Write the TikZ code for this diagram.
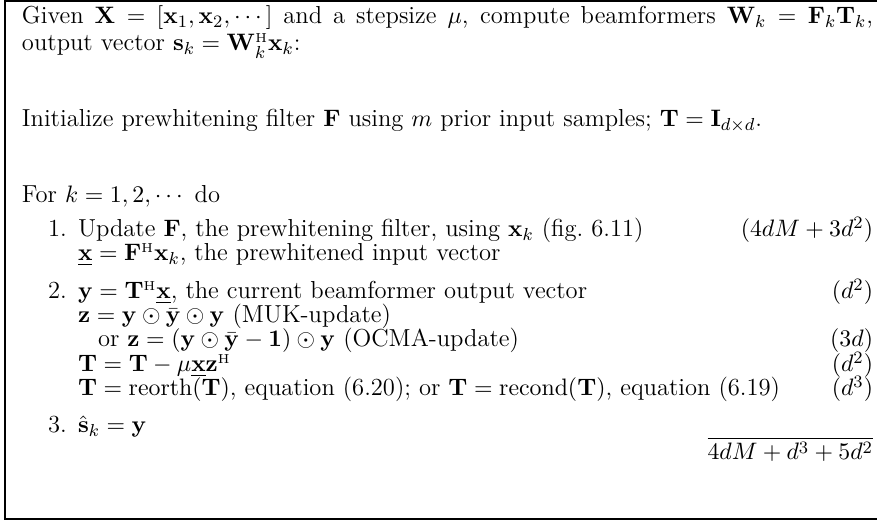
\documentclass[tikz,border=0pt]{standalone}
\usepackage{amsmath}
\newcommand{\hermit}{{\scriptscriptstyle\mathrm{H}}}
\newcommand{\bvec}[1]{\mathbf{#1}}
\begin{document}
\begin{tikzpicture}[x=0.46pt,y=-0.46pt,
  font=\fontsize{11.3}{13}\selectfont,
  txt/.style={anchor=base west, inner sep=0pt, outer sep=0pt},
  cost/.style={anchor=base east, inner sep=0pt, outer sep=0pt},
  frame/.style={line width=0.9pt}]
\useasboundingbox (0,0) rectangle (877,523);
% outer frame of the algorithm box
\draw[frame] (877,1) -- (5,1) -- (5,519) -- (877,519);

% header
\node[txt] (given) at (22,24) {\makebox[391.5pt][s]{Given $\bvec{X}=[\bvec{x}_1,\bvec{x}_2,\cdots]$ and a stepsize $\mu$, compute beamformers $\bvec{W}_k=\bvec{F}_k\bvec{T}_k$,}};
\node[txt] (outvec) at (22,51) {output vector $\bvec{s}_k=\bvec{W}_k^{\hermit}\bvec{x}_k$:};
\node[txt] (init) at (22,127) {Initialize prewhitening filter $\bvec{F}$ using $m$ prior input samples; $\bvec{T}=\bvec{I}_{d\times d}$.};
\node[txt] (loop) at (22,203) {For $k=1,2,\cdots$ do};

% step 1
\node[txt] (n1) at (48,237) {1.};
\node[txt] (s1a) at (78,237) {Update $\bvec{F}$, the prewhitening filter, using $\bvec{x}_k$ (fig.~6.11)};
\node[cost] (c1) at (873,237) {$(4dM+3d^2)$};
\node[txt] (s1b) at (78,261) {$\underline{\bvec{x}}=\bvec{F}^{\hermit}\bvec{x}_k$, the prewhitened input vector};

% step 2
\node[txt] (n2) at (48,299) {2.};
\node[txt] (s2a) at (78,299) {$\bvec{y}=\bvec{T}^{\hermit}\underline{\bvec{x}}$, the current beamformer output vector};
\node[cost] (c2a) at (873,299) {$(d^2)$};
\node[txt] (s2b) at (78,323) {$\bvec{z}=\bvec{y}\odot\bar{\bvec{y}}\odot\bvec{y}$ (MUK-update)};
\node[txt] (s2c) at (98,347) {or $\bvec{z}=(\bvec{y}\odot\bar{\bvec{y}}-\bvec{1})\odot\bvec{y}$ (OCMA-update)};
\node[cost] (c2c) at (873,347) {$(3d)$};
\node[txt] (s2d) at (78,372) {$\bvec{T}=\bvec{T}-\mu\underline{\bvec{x}}\bvec{z}^{\hermit}$};
\node[cost] (c2d) at (873,372) {$(d^2)$};
\node[txt] (s2e) at (78,396) {$\bvec{T}=\mathrm{reorth}(\bvec{T})$, equation (6.20); or $\bvec{T}=\mathrm{recond}(\bvec{T})$, equation (6.19)};
\node[cost] (c2e) at (873,396) {$(d^3)$};

% step 3
\node[txt] (n3) at (48,433) {3.};
\node[txt] (s3) at (78,433) {$\hat{\bvec{s}}_k=\bvec{y}$};

% total cost
\node[cost] (total) at (873,460) {$\overline{4dM+d^3+5d^2}$};
\end{tikzpicture}
\end{document}
